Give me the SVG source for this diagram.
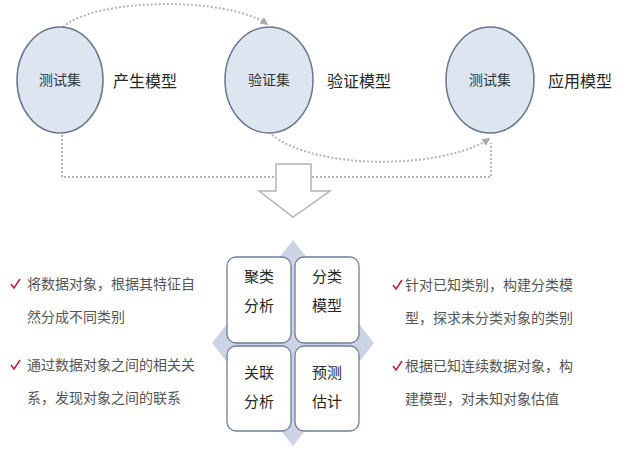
<svg xmlns="http://www.w3.org/2000/svg" width="640" height="450" viewBox="0 0 640 450">
<style>
.t{font-family:"Noto Sans CJK SC","Liberation Sans",sans-serif;}
.node ellipse{fill:#dde5f1;stroke:#68768f;stroke-width:1.5;}
.ct{font-size:14px;fill:#333;text-anchor:middle;}
.lbl{font-size:16px;fill:#262626;}
.dot{fill:none;stroke:#b5b5b5;stroke-width:2;stroke-dasharray:2 2;}
.box rect{fill:#fff;stroke:#6f7f99;stroke-width:1.3;}
.bt{font-size:15px;fill:#262626;text-anchor:middle;}
.bl{font-size:14px;fill:#555;}
.ck{fill:none;stroke:#c8163f;stroke-width:1.5;}
</style>
<defs>
<marker id="ah" viewBox="0 0 10 10" refX="8" refY="5" markerWidth="4" markerHeight="4" orient="auto">
<path d="M0,0 L10,5 L0,10 z" fill="#aaaaaa"/>
</marker>
</defs>
<rect width="640" height="450" fill="#fff"/>
<g id="connectors">
<path class="dot" d="M63,27 C95,-2 225,-4 267,24" marker-end="url(#ah)"/>
<path class="dot" d="M272,135 C320,172 445,168 489,139" marker-end="url(#ah)"/>
<path class="dot" d="M62,135 V177 H491 V143"/>
</g>
<g id="node-test1" class="node">
<ellipse cx="60" cy="80" rx="43" ry="53"/>
<text class="t ct" x="60" y="85">测试集</text>
</g>
<text class="t lbl" x="113" y="87">产生模型</text>
<g id="node-valid" class="node">
<ellipse cx="269" cy="80" rx="44" ry="53"/>
<text class="t ct" x="269" y="85">验证集</text>
</g>
<text class="t lbl" x="327" y="87">验证模型</text>
<g id="node-test2" class="node">
<ellipse cx="490" cy="80" rx="44" ry="53"/>
<text class="t ct" x="490" y="85">测试集</text>
</g>
<text class="t lbl" x="548" y="87">应用模型</text>
<g id="down-arrow">
<path d="M276,164 H311 V191 H330 L293,217 L259,191 H276 Z" fill="#fff" stroke="#b3b3b3" stroke-width="1.5"/>
</g>
<g id="diamond">
<path d="M293,240 L374,343 L293,446 L212,343 Z" fill="#ccd3e5"/>
</g>
<g id="box-cluster" class="box">
<rect x="227" y="257" width="64" height="86" rx="9"/>
<text class="t bt" x="259" y="282">聚类</text>
<text class="t bt" x="259" y="311">分析</text>
</g>
<g id="box-classify" class="box">
<rect x="295" y="257" width="64" height="86" rx="9"/>
<text class="t bt" x="327" y="282">分类</text>
<text class="t bt" x="327" y="311">模型</text>
</g>
<g id="box-assoc" class="box">
<rect x="227" y="346" width="64" height="85" rx="9"/>
<text class="t bt" x="259" y="378">关联</text>
<text class="t bt" x="259" y="407">分析</text>
</g>
<g id="box-predict" class="box">
<rect x="295" y="346" width="64" height="85" rx="9"/>
<text class="t bt" x="327" y="378">预测</text>
<text class="t bt" x="327" y="407">估计</text>
</g>
<g id="bullets-left">
<path class="ck" d="M11,284 L14,288 L20,279"/>
<text class="t bl" x="27" y="289">将数据对象，根据其特征自</text>
<text class="t bl" x="27" y="322">然分成不同类别</text>
<path class="ck" d="M11,365 L14,369 L20,360"/>
<text class="t bl" x="27" y="370">通过数据对象之间的相关关</text>
<text class="t bl" x="27" y="403">系，发现对象之间的联系</text>
</g>
<g id="bullets-right">
<path class="ck" d="M393,285 L396,289 L402,280"/>
<text class="t bl" x="405" y="290">针对已知类别，构建分类模</text>
<text class="t bl" x="405" y="323">型，探求未分类对象的类别</text>
<path class="ck" d="M393,366 L396,370 L402,361"/>
<text class="t bl" x="405" y="371">根据已知连续数据对象，构</text>
<text class="t bl" x="405" y="404">建模型，对未知对象估值</text>
</g>
</svg>
